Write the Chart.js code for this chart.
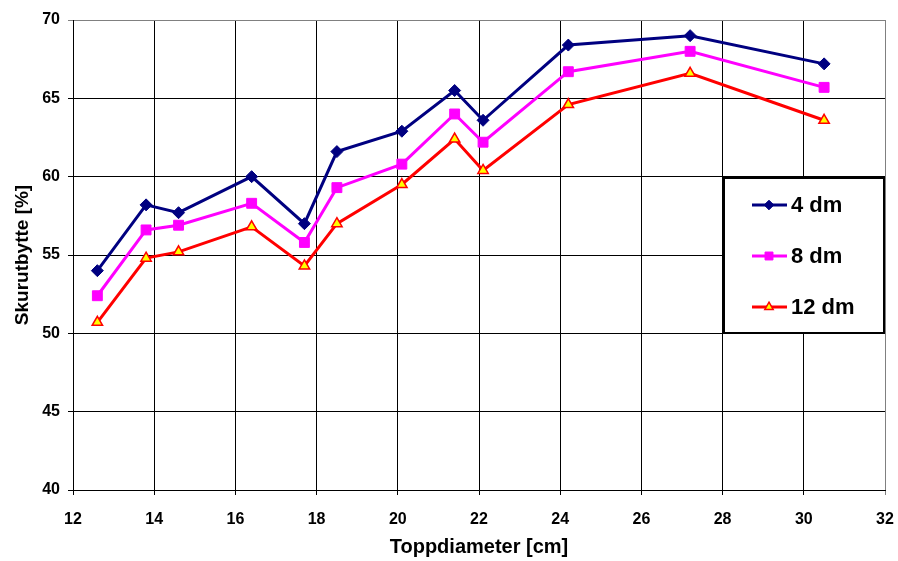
<!DOCTYPE html>
<html>
<head>
<meta charset="utf-8">
<script src="https://cdn.jsdelivr.net/npm/chart.js@4/dist/chart.umd.min.js"></script>
<style>
  html, body { margin: 0; padding: 0; background: #fff; }
  #wrap { width: 898px; height: 561px; }
</style>
</head>
<body>
<div id="wrap"><canvas id="chart"></canvas></div>
<script>
// Toppdiameter (cm) og skurutbytte (%) per lengdeklasse
const diameter = [12.6, 13.8, 14.6, 16.4, 17.7, 18.5, 20.1, 21.4, 22.1, 24.2, 27.2, 30.5];
const utbytte4dm = [54.0, 58.2, 57.7, 60.0, 57.0, 61.6, 62.9, 65.5, 63.6, 68.4, 69.0, 67.2];
const utbytte8dm = [52.4, 56.6, 56.9, 58.3, 55.8, 59.3, 60.8, 64.0, 62.2, 66.7, 68.0, 65.7];
const utbytte12dm = [50.7, 54.8, 55.2, 56.8, 54.3, 57.0, 59.5, 62.4, 60.4, 64.6, 66.6, 63.6];
const serieNavn = ['4 dm', '8 dm', '12 dm'];

const punkter = (verdier) => diameter.map((d, i) => ({ x: d, y: verdier[i] }));

const fontFamily = '"Liberation Sans", Arial, sans-serif';

// --- Legende tegnet inne i plottet, med hvit boks ---
const boksLegende = {
    id: 'boksLegende',
    afterDraw(chart) {
        const ctx = chart.ctx;
        const x0 = 723, y0 = 177, w = 161, h = 156;
        ctx.save();
        ctx.fillStyle = '#fff';
        ctx.fillRect(x0, y0, w, h);
        ctx.strokeStyle = '#000';
        ctx.lineWidth = 2;
        ctx.strokeRect(x0 + 1, y0 + 1, w - 1, h - 1);

        const radY = [205, 256, 307];
        chart.data.datasets.forEach((ds, i) => {
            const y = radY[i];
            ctx.strokeStyle = ds.borderColor;
            ctx.lineWidth = 3;
            ctx.beginPath();
            ctx.moveTo(752, y);
            ctx.lineTo(787, y);
            ctx.stroke();

            // markør midt på linjen
            ctx.fillStyle = ds.pointBackgroundColor;
            ctx.strokeStyle = ds.pointBorderColor;
            ctx.lineWidth = ds.pointBorderWidth;
            Chart.helpers.drawPoint(ctx, {
                pointStyle: ds.pointStyle,
                radius: ds.pointRadius * 0.8,
                borderWidth: ds.pointBorderWidth,
                rotation: 0
            }, 769, y);

            ctx.fillStyle = '#000';
            ctx.font = 'bold 22px ' + fontFamily;
            ctx.textBaseline = 'middle';
            ctx.textAlign = 'left';
            ctx.fillText(serieNavn[i], 791, y + 1);
        });
        ctx.restore();
    }
};

const chart = new Chart(document.getElementById('chart'), {
    type: 'line',
    data: {
        datasets: [{
            label: serieNavn[0],
            data: punkter(utbytte4dm),
            borderColor: '#000080',
            backgroundColor: '#000080',
            pointBackgroundColor: '#000080',
            pointBorderColor: '#000080',
            pointStyle: 'rectRot',
            pointRadius: 6,
            pointBorderWidth: 1,
            borderWidth: 3
        }, {
            label: serieNavn[1],
            data: punkter(utbytte8dm),
            borderColor: '#ff00ff',
            backgroundColor: '#ff00ff',
            pointBackgroundColor: '#ff00ff',
            pointBorderColor: '#ff00ff',
            pointStyle: 'rect',
            pointRadius: 7,
            pointBorderWidth: 1,
            borderWidth: 3
        }, {
            label: serieNavn[2],
            data: punkter(utbytte12dm),
            borderColor: '#ff0000',
            backgroundColor: '#ffff00',
            pointBackgroundColor: '#ffff00',
            pointBorderColor: '#ff0000',
            pointStyle: 'triangle',
            pointRadius: 6,
            pointBorderWidth: 1.5,
            borderWidth: 3
        }]
    },
    options: {
        responsive: true,
        maintainAspectRatio: false,
        animation: false,
        layout: { padding: { top: 20, right: 13, left: 0, bottom: 0 } },
        plugins: {
            legend: { display: false },
            tooltip: { enabled: false }
        },
        elements: { line: { tension: 0 } },
        scales: {
            x: {
                type: 'linear',
                min: 12,
                max: 32,
                afterFit: (s) => {
                    s.height = 71;
                    s.paddingLeft = 0;
                    s.paddingRight = 0;
                },
                ticks: {
                    stepSize: 2,
                    color: '#000',
                    padding: 15,
                    font: { family: fontFamily, size: 16, weight: 'bold' }
                },
                grid: {
                    color: (c) => c.tick && c.tick.value === 32 ? '#808080' : '#000',
                    lineWidth: 1,
                    tickLength: 5
                },
                border: { color: '#000', width: 1 },
                title: {
                    display: true,
                    text: 'Toppdiameter [cm]',
                    color: '#000',
                    padding: { top: 0, bottom: 2 },
                    font: { family: fontFamily, size: 20, weight: 'bold' }
                }
            },
            y: {
                min: 40,
                max: 70,
                afterFit: (s) => { s.width = 73; },
                ticks: {
                    stepSize: 5,
                    color: '#000',
                    padding: 8,
                    font: { family: fontFamily, size: 16, weight: 'bold' }
                },
                grid: {
                    color: (c) => c.tick && c.tick.value === 70 ? '#808080' : '#000',
                    lineWidth: 1,
                    tickLength: 5
                },
                border: { color: '#000', width: 1 },
                title: {
                    display: true,
                    text: 'Skurutbytte [%]',
                    color: '#000',
                    padding: { top: 11, bottom: 0 },
                    font: { family: fontFamily, size: 19, weight: 'bold' }
                }
            }
        }
    },
    plugins: [boksLegende]
});
</script>
</body>
</html>
